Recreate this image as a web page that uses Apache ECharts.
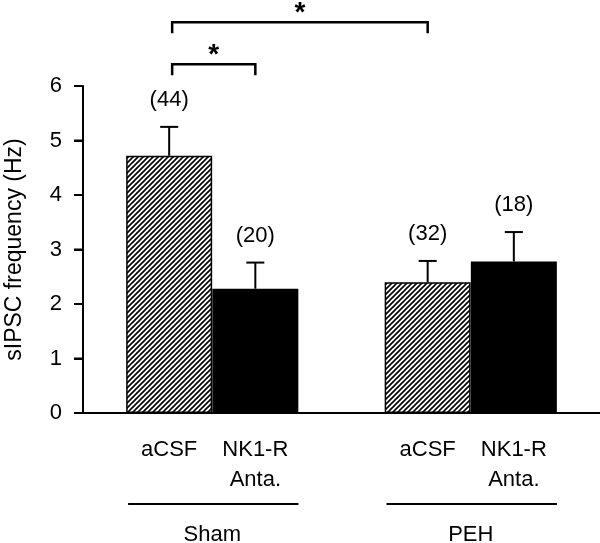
<!DOCTYPE html>
<html>
<head>
<meta charset="utf-8">
<script src="https://cdn.jsdelivr.net/npm/echarts@6/dist/echarts.min.js"></script>
<style>
  html, body {margin: 0; padding: 0; background: #fff;}
  #chart {width: 600px; height: 543px;}
</style>
</head>
<body>
<div id="chart"></div>
<script>
// slots along x: empty slots make the gap between the groups
const categories = ['', 'aCSF', 'NK1-R\nAnta.', '', 'aCSF', 'NK1-R\nAnta.', ''];
const means = ['-', 4.72, 2.28, '-', 2.40, 2.78, '-'];
const sems = [null, 0.53, 0.48, null, 0.39, 0.54, null];
const counts = ['', '(44)', '(20)', '', '(32)', '(18)', ''];
const fills = ['', 'hatch', 'solid', '', 'hatch', 'solid', ''];
const yTicks = [0, 1, 2, 3, 4, 5, 6];
const groupNames = ['Sham', 'PEH'];
const groupFrom = [1, 4];
const groupTo = [2, 5];
const sigFrom = [1, 1];
const sigTo = [2, 4];
const sigLevel = [6.4, 7.17];

const FONT = '"Liberation Sans", Arial, sans-serif';

function hatchPattern() {
  const s = 5;
  const c = document.createElement('canvas');
  c.width = s; c.height = s;
  const ctx = c.getContext('2d');
  ctx.fillStyle = '#fff';
  ctx.fillRect(0, 0, s, s);
  ctx.strokeStyle = '#000';
  ctx.lineWidth = 1.6;
  ctx.beginPath();
  ctx.moveTo(-1, s + 1); ctx.lineTo(s + 1, -1);
  ctx.moveTo(-1, 1); ctx.lineTo(1, -1);
  ctx.moveTo(s - 1, s + 1); ctx.lineTo(s + 1, s - 1);
  ctx.stroke();
  return c;
}
const hatch = {image: hatchPattern(), repeat: 'repeat'};

const chart = echarts.init(document.getElementById('chart'));

const barData = means.map((v, i) => ({
  value: v,
  itemStyle: {
    color: fills[i] === 'hatch' ? hatch : '#000',
    borderColor: '#000',
    borderWidth: 1.5
  }
}));

const errData = [];
means.forEach((v, i) => {
  if (sems[i] != null) errData.push([i, v, v + sems[i], counts[i]]);
});

const groupData = groupNames.map((n, i) => [groupFrom[i], groupTo[i], n]);
const sigData = sigFrom.map((f, i) => [f, sigTo[i], sigLevel[i]]);

chart.setOption({
  animation: false,
  textStyle: {fontFamily: FONT},
  grid: {left: 83, right: 0, top: 86, bottom: 130, outerBoundsMode: 'none'},
  xAxis: {
    type: 'category',
    data: categories,
    boundaryGap: false,
    axisLine: {lineStyle: {color: '#000', width: 2}},
    axisTick: {show: false},
    axisLabel: {
      interval: 0, color: '#000', fontSize: 22, fontFamily: FONT,
      margin: 22, lineHeight: 30
    },
    splitLine: {show: false}
  },
  yAxis: {
    type: 'value',
    min: 0, max: 6, interval: 1,
    name: 'sIPSC frequency (Hz)',
    nameLocation: 'middle',
    nameGap: 57,
    nameTextStyle: {color: '#000', fontSize: 23, fontFamily: FONT},
    axisLine: {show: true, lineStyle: {color: '#000', width: 2}},
    axisTick: {show: true, length: 9, lineStyle: {color: '#000', width: 2}},
    axisLabel: {color: '#000', fontSize: 22, fontFamily: FONT, margin: 21},
    splitLine: {show: false}
  },
  series: [
    {
      type: 'bar',
      data: barData,
      barWidth: 86,
      z: 2
    },
    {
      // outward y ticks
      type: 'custom',
      data: yTicks.map(v => [0, v]),
      clip: false,
      z: 5,
      renderItem(params, api) {
        const p = api.coord([0, api.value(1)]);
        return {type: 'line', shape: {x1: p[0] - 9, y1: p[1], x2: p[0], y2: p[1]},
          style: {stroke: '#000', lineWidth: 2}};
      }
    },
    {
      // error bars + n labels
      type: 'custom',
      data: errData,
      z: 3,
      renderItem(params, api) {
        const base = api.coord([api.value(0), api.value(1)]);
        const top = api.coord([api.value(0), api.value(2)]);
        const cap = 9;
        const st = {stroke: '#000', lineWidth: 2};
        return {
          type: 'group',
          children: [
            {type: 'line', shape: {x1: base[0], y1: base[1], x2: top[0], y2: top[1]}, style: st},
            {type: 'line', shape: {x1: top[0] - cap, y1: top[1], x2: top[0] + cap, y2: top[1]}, style: st},
            {type: 'text', style: {
              text: errData[params.dataIndex][3], x: top[0], y: top[1] - 27,
              align: 'center', verticalAlign: 'middle',
              fontSize: 22, fontFamily: FONT, fill: '#000'
            }}
          ]
        };
      }
    },
    {
      // group underline + group name
      type: 'custom',
      data: groupData,
      renderItem(params, api) {
        const half = api.size([1, 0])[0] / 2;
        const a = api.coord([api.value(0), 0]);
        const b = api.coord([api.value(1), 0]);
        return {
          type: 'group',
          children: [
            {type: 'line', shape: {x1: a[0] - half + 2, y1: a[1] + 91, x2: b[0] + half, y2: a[1] + 91},
              style: {stroke: '#000', lineWidth: 2}},
            {type: 'text', style: {
              text: groupData[params.dataIndex][2], x: (a[0] + b[0]) / 2, y: a[1] + 122,
              align: 'center', verticalAlign: 'middle',
              fontSize: 22, fontFamily: FONT, fill: '#000'
            }}
          ]
        };
      }
    },
    {
      // significance brackets
      type: 'custom',
      data: sigData,
      renderItem(params, api) {
        const a = api.coord([api.value(0), api.value(2)]);
        const b = api.coord([api.value(1), api.value(2)]);
        const x1 = a[0] + 3;
        const leg = 11;
        return {
          type: 'group',
          children: [
            {type: 'polyline', shape: {points: [[x1, a[1] + leg], [x1, a[1]], [b[0], b[1]], [b[0], b[1] + leg]]},
              style: {stroke: '#000', lineWidth: 2.5, fill: null}},
            {type: 'text', style: {
              text: '*', x: (x1 + b[0]) / 2, y: a[1] - 9,
              align: 'center', verticalAlign: 'middle',
              fontSize: 28, fontWeight: 'bold', fontFamily: FONT, fill: '#000'
            }}
          ]
        };
      }
    }
  ]
});
</script>
</body>
</html>
